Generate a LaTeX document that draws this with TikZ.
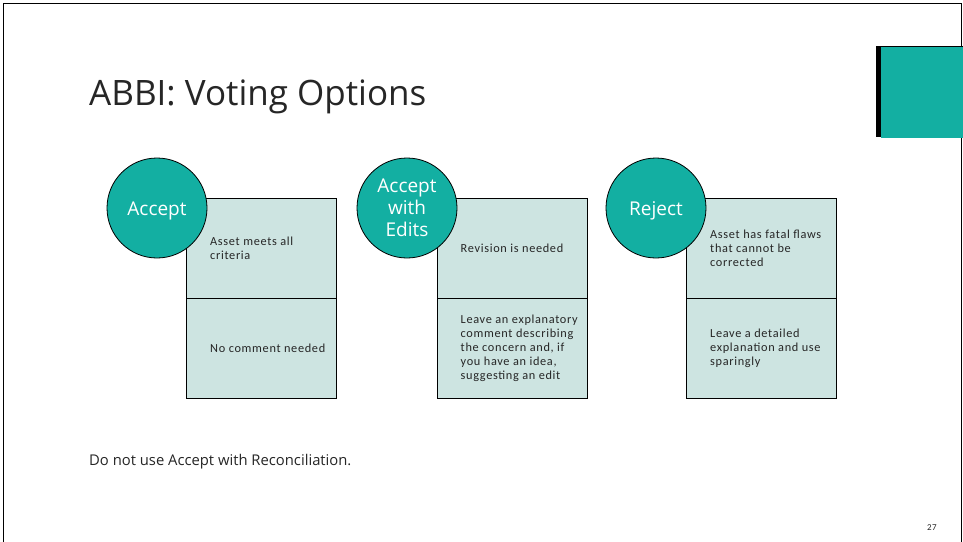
\documentclass[tikz,border=0pt]{standalone}
\usepackage{fontspec}
\setmainfont{Open Sans}
\newfontfamily\boxfont[LetterSpace=5.5]{Carlito}
\definecolor{teal1}{HTML}{13AFA2}
\definecolor{teal2}{HTML}{CDE4E1}
\definecolor{txt}{HTML}{262626}
\begin{document}
\begin{tikzpicture}[x=1pt,y=-1pt,
  optcircle/.style={circle,draw=black,line width=0.8pt,fill=teal1,minimum size=100pt,inner sep=0pt},
  circtext/.style={inner sep=0pt,text=white,font=\fontsize{19}{22}\selectfont,align=center},
  cell/.style={draw=black,line width=0.8pt,fill=teal2,minimum width=150pt,minimum height=100pt,inner sep=0pt},
  celltext/.style={anchor=west,align=left,inner sep=0pt,font=\boxfont\fontsize{12.3}{14}\selectfont,text=txt}]
\useasboundingbox (0,0) rectangle (963,541);
\fill[white] (0,0) rectangle (963,541);
\draw[line width=1pt] (3,560) -- (3,3) -- (961,3) -- (961,560);
% corner accent
\fill[black] (876,46) rectangle (963,137);
\fill[teal1] (881,47) rectangle (963,138);
\node[anchor=base west,inner sep=0pt,font=\fontsize{35}{40}\selectfont,text=txt] (title) at (89,105) {ABBI: Voting Options};
% column 1
\node[cell] (b1a) at (261.5,248) {};
\node[cell] (b1b) at (261.5,348) {};
\node[optcircle] (c1) at (157,208) {};
\node[circtext] (c1t) at ([yshift=-3pt]c1.center) {Accept};
\node[celltext] (t1a) at (210,248) {Asset meets all\\criteria};
\node[celltext] (t1b) at (210,348) {No comment needed};
% column 2
\node[cell] (b2a) at (512,248) {};
\node[cell] (b2b) at (512,348) {};
\node[optcircle] (c2) at (407,208) {};
\node[circtext] (c2t) at (c2.center) {Accept\\with\\Edits};
\node[celltext] (t2a) at (460.5,248) {Revision is needed};
\node[celltext] (t2b) at (460.5,348) {Leave an explanatory\\comment describing\\the concern and, if\\you have an idea,\\suggesting an edit};
% column 3
\node[cell] (b3a) at (761,248) {};
\node[cell] (b3b) at (761,348) {};
\node[optcircle] (c3) at (656,208) {};
\node[circtext] (c3t) at ([yshift=-3pt]c3.center) {Reject};
\node[celltext] (t3a) at (710,248) {Asset has fatal flaws\\that cannot be\\corrected};
\node[celltext] (t3b) at (710,348) {Leave a detailed\\explanation and use\\sparingly};
\node[anchor=base west,inner sep=0pt,font=\fontsize{14.8}{17}\selectfont,text=txt] (note) at (89,465) {Do not use Accept with Reconciliation.};
\node[anchor=base east,inner sep=0pt,font=\boxfont\fontsize{9}{10}\selectfont,text=txt] (pg) at (937,530) {27};
\end{tikzpicture}
\end{document}
